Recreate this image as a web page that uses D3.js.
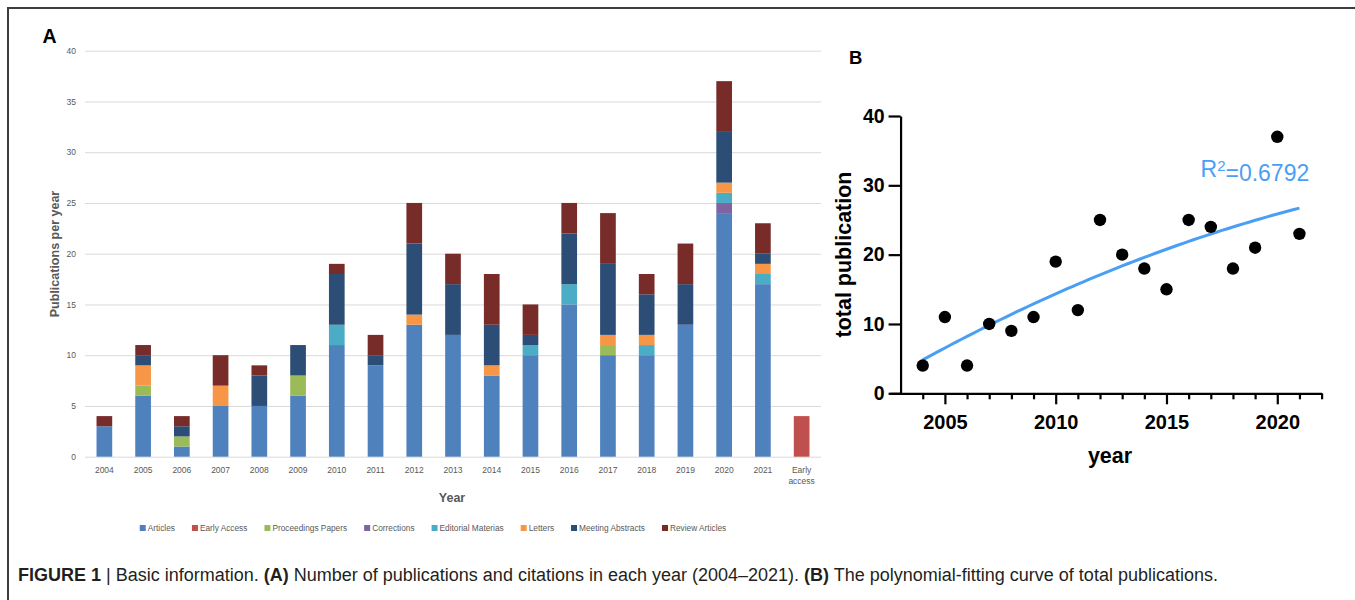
<!DOCTYPE html>
<html>
<head>
<meta charset="utf-8">
<script src="https://d3js.org/d3.v7.min.js"></script>
<style>
  body { margin: 0; background: #fff; }
  svg { display: block; }
</style>
</head>
<body>
<script>
// data
var categories = ["2004","2005","2006","2007","2008","2009","2010","2011","2012","2013",
                  "2014","2015","2016","2017","2018","2019","2020","2021","Early access"];
var seriesNames = ["Articles","Early Access","Proceedings Papers","Corrections",
                   "Editorial Materias","Letters","Meeting Abstracts","Review Articles"];
var seriesColors = ["#4f81bd","#c0504d","#9bbb59","#8064a2","#4bacc6","#f79646","#2c4d75","#772c2a"];

var articles     = [3,6,1,5,5,6,11,9,13,12,8,10,15,10,10,13,24,17,0];
var earlyAccess  = [0,0,0,0,0,0,0,0,0,0,0,0,0,0,0,0,0,0,4];
var proceedings  = [0,1,1,0,0,2,0,0,0,0,0,0,0,1,0,0,0,0,0];
var corrections  = [0,0,0,0,0,0,0,0,0,0,0,0,0,0,0,0,1,0,0];
var editorial    = [0,0,0,0,0,0,2,0,0,0,0,1,2,0,1,0,1,1,0];
var letters      = [0,2,0,2,0,0,0,0,1,0,1,0,0,1,1,0,1,1,0];
var meeting      = [0,1,1,0,3,3,5,1,7,5,4,1,5,7,4,4,5,1,0];
var review       = [1,1,1,3,1,0,1,2,4,3,5,3,3,5,2,4,5,3,0];

var yTicksA = [0,5,10,15,20,25,30,35,40];

var years  = [2004,2005,2006,2007,2008,2009,2010,2011,2012,2013,2014,2015,2016,2017,2018,2019,2020,2021];
var totals = [4,11,4,10,9,11,19,12,25,20,18,15,25,24,18,21,37,23];
var yTicksB = [0,10,20,30,40];
var xTicksB = [2004,2005,2006,2007,2008,2009,2010,2011,2012,2013,2014,2015,2016,2017,2018,2019,2020,2021,2022];
var xLabelsB = [2005,2010,2015,2020];

var seriesValues = [articles, earlyAccess, proceedings, corrections, editorial, letters, meeting, review];

var W = 1355, H = 600;
var svg = d3.select("body").append("svg")
    .attr("width", W)
    .attr("height", H);

svg.append("rect").attr("width", W).attr("height", H).attr("fill", "#fff");

// outer frame (open at right / bottom)
svg.append("path")
    .attr("d", "M8," + H + "V8H" + W)
    .attr("fill", "none")
    .attr("stroke", "#3d3d3d")
    .attr("stroke-width", 2);

var grayText = "#595959";
var fontA = "'Liberation Sans', Arial, sans-serif";

// ---------- panel A ----------
var xA = d3.scaleBand()
    .domain(categories)
    .range([85, 821])
    .paddingInner(0.595)
    .paddingOuter(0.2975);
var yA = d3.scaleLinear().domain([0, 40]).range([456.7, 50.7]);

// gridlines + y labels
var gy = svg.append("g")
    .attr("transform", "translate(85,0)")
    .call(d3.axisLeft(yA).tickValues(yTicksA).tickSize(-736).tickPadding(9));
gy.select(".domain").remove();
gy.selectAll(".tick line").attr("stroke", "#d9d9d9").attr("stroke-width", 1);
gy.selectAll(".tick text")
    .attr("fill", grayText)
    .style("font-family", fontA)
    .style("font-size", "8.5px");

// stacked bars
var table = categories.map(function(c, i) {
    var row = {cat: c};
    seriesNames.forEach(function(s, j) { row[s] = seriesValues[j][i]; });
    return row;
});
var stacked = d3.stack().keys(seriesNames)(table);

svg.append("g").selectAll("g")
    .data(stacked)
    .enter().append("g")
    .attr("fill", function(d, i) { return seriesColors[i]; })
    .selectAll("rect")
    .data(function(d) { return d.filter(function(p) { return p[1] > p[0]; }); })
    .enter().append("rect")
    .attr("x", function(d) { return xA(d.data.cat); })
    .attr("width", xA.bandwidth())
    .attr("y", function(d) { return yA(d[1]); })
    .attr("height", function(d) { return yA(d[0]) - yA(d[1]); });

// x labels
var gx = svg.append("g")
    .attr("transform", "translate(0," + yA(0) + ")")
    .call(d3.axisBottom(xA).tickSize(0).tickPadding(9.8).tickFormat(""));
gx.select(".domain").remove();
gx.selectAll(".tick text").each(function(d) {
    var t = d3.select(this)
        .attr("fill", grayText)
        .style("font-family", fontA)
        .style("font-size", "8.5px");
    var words = d === "Early access" ? ["Early", "access"] : [d];
    words.forEach(function(w, k) {
        t.append("tspan").attr("x", 0).attr("dy", k === 0 ? "0.71em" : "1.3em").text(w);
    });
    t.attr("dy", null);
});

// axis titles
svg.append("text")
    .attr("transform", "translate(59,254) rotate(-90)")
    .attr("text-anchor", "middle")
    .attr("fill", grayText)
    .style("font-family", fontA)
    .style("font-weight", "bold")
    .style("font-size", "12.5px")
    .text("Publications per year");

svg.append("text")
    .attr("x", 452)
    .attr("y", 502)
    .attr("text-anchor", "middle")
    .attr("fill", grayText)
    .style("font-family", fontA)
    .style("font-weight", "bold")
    .style("font-size", "12.5px")
    .text("Year");

// legend
var legend = svg.append("g").attr("transform", "translate(0,528)");
var lx = 0, gap = 17;
seriesNames.forEach(function(s, i) {
    var item = legend.append("g").attr("transform", "translate(" + lx + ",0)");
    item.append("rect")
        .attr("x", 0).attr("y", -3)
        .attr("width", 6).attr("height", 6)
        .attr("fill", seriesColors[i]);
    var t = item.append("text")
        .attr("x", 8)
        .attr("dy", "0.35em")
        .attr("fill", grayText)
        .style("font-family", fontA)
        .style("font-size", "8.3px")
        .text(s);
    lx += 8 + t.node().getComputedTextLength() + gap;
});
legend.attr("transform", "translate(" + (433 - (lx - gap) / 2) + ",528)");

svg.append("text")
    .attr("x", 42.5).attr("y", 43.3)
    .style("font-family", fontA)
    .style("font-weight", "bold")
    .style("font-size", "19.5px")
    .text("A");

// ---------- panel B ----------
var xB = d3.scaleLinear().domain([2002.5, 2022]).range([889.5, 1321.6]);
var yB = d3.scaleLinear().domain([0, 40]).range([393.3, 116]);

var axisW = 2.2;

// y axis
var gyB = svg.append("g")
    .attr("transform", "translate(" + xB(2003) + ",0)")
    .call(d3.axisLeft(yB).tickValues(yTicksB).tickSize(12).tickSizeOuter(0).tickPadding(4));
gyB.select(".domain").attr("stroke", "#000").attr("stroke-width", axisW);
gyB.selectAll(".tick line").attr("stroke", "#000").attr("stroke-width", axisW);
gyB.selectAll(".tick text")
    .attr("fill", "#000")
    .style("font-family", fontA)
    .style("font-weight", "bold")
    .style("font-size", "19.5px");

// x axis
var gxB = svg.append("g")
    .attr("transform", "translate(0," + yB(0) + ")")
    .call(d3.axisBottom(xB).tickValues(xTicksB).tickSize(6).tickSizeOuter(0).tickPadding(15.5)
        .tickFormat(function(d) { return xLabelsB.indexOf(d) >= 0 ? d : ""; }));
gxB.select(".domain").attr("stroke", "#000").attr("stroke-width", axisW);
gxB.selectAll(".tick line")
    .attr("stroke", "#000")
    .attr("stroke-width", axisW)
    .attr("y2", function(d) { return xLabelsB.indexOf(d) >= 0 ? 11 : 6; });
gxB.selectAll(".tick text")
    .attr("fill", "#000")
    .style("font-family", fontA)
    .style("font-weight", "bold")
    .style("font-size", "20px");

// second order polynomial least squares fit of the totals
function polyFit2(xs, ys) {
    var x0 = d3.mean(xs);
    var s = [0,0,0,0,0], t = [0,0,0];
    xs.forEach(function(x, i) {
        var u = x - x0, p = 1;
        for (var k = 0; k < 5; k++) { s[k] += p; if (k < 3) t[k] += p * ys[i]; p *= u; }
    });
    var A = [[s[0], s[1], s[2], t[0]], [s[1], s[2], s[3], t[1]], [s[2], s[3], s[4], t[2]]];
    for (var c = 0; c < 3; c++) {
        for (var r = c + 1; r < 3; r++) {
            var f = A[r][c] / A[c][c];
            for (var k2 = c; k2 < 4; k2++) A[r][k2] -= f * A[c][k2];
        }
    }
    var b = [0,0,0];
    for (var r2 = 2; r2 >= 0; r2--) {
        var v = A[r2][3];
        for (var k3 = r2 + 1; k3 < 3; k3++) v -= A[r2][k3] * b[k3];
        b[r2] = v / A[r2][r2];
    }
    return function(x) { var u = x - x0; return b[0] + b[1] * u + b[2] * u * u; };
}
var fit = polyFit2(years, totals);
var curveX = d3.range(years[0], years[years.length - 1] + 0.001, 0.25);

svg.append("path")
    .datum(curveX)
    .attr("fill", "none")
    .attr("stroke", "#4a9ff5")
    .attr("stroke-width", 3)
    .attr("d", d3.line()
        .x(function(d) { return xB(d); })
        .y(function(d) { return yB(fit(d)); }));

svg.append("g").selectAll("circle")
    .data(years)
    .enter().append("circle")
    .attr("cx", function(d) { return xB(d); })
    .attr("cy", function(d, i) { return yB(totals[i]); })
    .attr("r", 6.2)
    .attr("fill", "#000");

// R squared label
var r2 = svg.append("text")
    .attr("x", 1200.5).attr("y", 177.3)
    .attr("fill", "#4a9ff5")
    .style("font-family", fontA)
    .style("font-size", "23px");
r2.append("tspan").text("R");
r2.append("tspan").attr("dy", "-0.42em").style("font-size", "15px").text("2");
r2.append("tspan").attr("dy", "0.42em").text("=0.6792");

svg.append("text")
    .attr("transform", "translate(851,254.5) rotate(-90)")
    .attr("text-anchor", "middle")
    .style("font-family", fontA)
    .style("font-weight", "bold")
    .style("font-size", "21.5px")
    .text("total publication");

svg.append("text")
    .attr("x", 1110).attr("y", 463)
    .attr("text-anchor", "middle")
    .style("font-family", fontA)
    .style("font-weight", "bold")
    .style("font-size", "21.5px")
    .text("year");

svg.append("text")
    .attr("x", 849).attr("y", 64)
    .style("font-family", fontA)
    .style("font-weight", "bold")
    .style("font-size", "18.5px")
    .text("B");

// ---------- caption ----------
var cap = svg.append("text")
    .attr("x", 18).attr("y", 581)
    .attr("fill", "#231f20")
    .style("font-family", fontA)
    .style("font-size", "18px");
cap.append("tspan").style("font-weight", "bold").text("FIGURE 1");
cap.append("tspan").text(" | Basic information. ");
cap.append("tspan").style("font-weight", "bold").text("(A)");
cap.append("tspan").text(" Number of publications and citations in each year (2004\u20132021). ");
cap.append("tspan").style("font-weight", "bold").text("(B)");
cap.append("tspan").text(" The polynomial-fitting curve of total publications.");
</script>
</body>
</html>
